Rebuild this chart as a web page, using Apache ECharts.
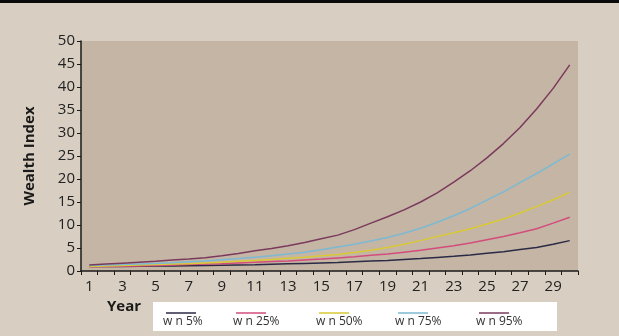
<!DOCTYPE html>
<html>
<head>
<meta charset="utf-8">
<script src="https://cdn.jsdelivr.net/npm/echarts@6/dist/echarts.min.js"></script>
<style>
html,body{margin:0;padding:0;background:#d8cfc2;}
#c{width:619px;height:336px;}
</style>
</head>
<body>
<div id="c"></div>
<script>
const years = [1,2,3,4,5,6,7,8,9,10,11,12,13,14,15,16,17,18,19,20,21,22,23,24,25,26,27,28,29,30];
const seriesNames = ['w n 5%','w n 25%','w n 50%','w n 75%','w n 95%'];
const seriesColors = ['#2b2a45','#d24d7c','#d9c934','#7db9d2','#7b3a5c'];
const w5  = [1.0,1.0,1.0,1.05,1.1,1.1,1.15,1.2,1.25,1.3,1.35,1.45,1.55,1.65,1.75,1.85,2.0,2.15,2.3,2.5,2.7,2.95,3.2,3.5,3.85,4.2,4.65,5.1,5.8,6.6];
const w25 = [0.9,1.0,1.05,1.1,1.2,1.3,1.4,1.5,1.6,1.75,1.9,2.05,2.2,2.4,2.6,2.85,3.1,3.4,3.7,4.1,4.5,5.0,5.5,6.1,6.8,7.5,8.3,9.2,10.4,11.7];
const w50 = [1.0,1.1,1.2,1.3,1.4,1.5,1.6,1.75,1.9,2.1,2.3,2.5,2.75,3.0,3.3,3.6,4.0,4.5,5.1,5.8,6.6,7.5,8.3,9.2,10.2,11.3,12.6,14.0,15.5,17.1];
const w75 = [1.2,1.3,1.4,1.5,1.65,1.8,2.0,2.2,2.45,2.7,3.0,3.3,3.7,4.1,4.6,5.2,5.8,6.5,7.3,8.2,9.3,10.6,12.0,13.6,15.4,17.2,19.2,21.2,23.3,25.4];
const w95 = [1.3,1.5,1.7,1.9,2.1,2.4,2.6,2.9,3.3,3.8,4.4,4.9,5.5,6.2,7.0,7.8,9.0,10.4,11.8,13.3,15.0,17.0,19.3,21.8,24.6,27.7,31.2,35.2,39.7,44.8];
const yTicks = {min:0, max:50, interval:5};
const allData = [w5,w25,w50,w75,w95];

const chart = echarts.init(document.getElementById('c'), null, {renderer:'canvas'});
const font = '"Open Sans", "DejaVu Sans", sans-serif';

const legendX = [165, 235, 318, 397, 478];
const legendGraphics = [
  {type:'rect', shape:{x:153,y:302,width:404,height:29}, style:{fill:'#ffffff'}}
];
seriesNames.forEach((n,i)=>{
  legendGraphics.push({type:'line', shape:{x1:legendX[i]+1,y1:313,x2:legendX[i]+31,y2:313}, style:{stroke:seriesColors[i], lineWidth:1.5}});
  legendGraphics.push({type:'text', x:legendX[i]-2, y:316, style:{text:n, fill:'#333', font:'12px '+font}});
});
legendGraphics.push({type:'text', x:107, y:299, style:{text:'Year', fill:'#1a1a1a', font:'bold 15px '+font}});
legendGraphics.push({type:'rect', shape:{x:0,y:0,width:619,height:3}, style:{fill:'#0a0a0a'}});

chart.setOption({
  backgroundColor:'#d8cfc2',
  animation:false,
  grid:{left:81, right:41, top:41, bottom:65, show:true, backgroundColor:'#c4b5a5', borderWidth:0},
  xAxis:{
    type:'category', data:years, boundaryGap:true,
    axisLine:{lineStyle:{color:'#1a1a1a', width:1.5}},
    axisTick:{show:true, interval:0, length:4, lineStyle:{color:'#1a1a1a'}},
    axisLabel:{interval:1, color:'#222', fontSize:15, fontFamily:font, margin:8}
  },
  yAxis:{
    type:'value', min:yTicks.min, max:yTicks.max, interval:yTicks.interval,
    name:'Wealth Index', nameLocation:'middle', nameGap:44,
    nameTextStyle:{color:'#1a1a1a', fontSize:15, fontWeight:'bold', fontFamily:font},
    axisLine:{show:true, lineStyle:{color:'#1a1a1a', width:1.5}},
    axisTick:{show:true, length:4, lineStyle:{color:'#1a1a1a'}},
    splitLine:{show:false},
    axisLabel:{color:'#222', fontSize:15, fontFamily:font, margin:6}
  },
  series: seriesNames.map((n,i)=>({
    name:n, type:'line', data:allData[i], symbol:'none', smooth:false,
    lineStyle:{color:seriesColors[i], width:1.5}, itemStyle:{color:seriesColors[i]}
  })),
  graphic: legendGraphics
});
</script>
</body>
</html>
